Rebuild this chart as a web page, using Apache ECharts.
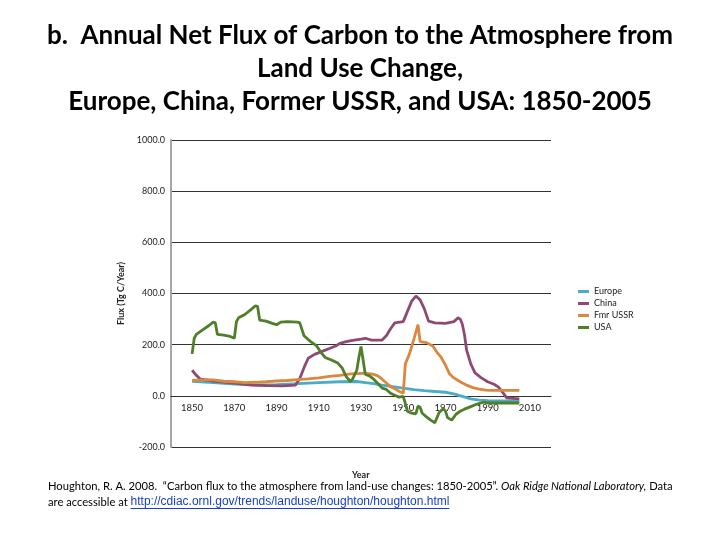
<!DOCTYPE html>
<html><head><meta charset="utf-8">
<script src="https://cdn.jsdelivr.net/npm/echarts@6/dist/echarts.min.js"></script>
<style>html,body{margin:0;padding:0;background:#fff}#c{width:720px;height:540px}</style>
</head><body><div id="c"></div>
<script>
// ---- data ----
const xTickLabels = [1850, 1870, 1890, 1910, 1930, 1950, 1970, 1990, 2010];

const europeYears = [1850,1860,1870,1880,1890,1900,1910,1920,1928,1932,1936,1940,1945,1950,1955,1960,1965,1970,1974,1978,1982,1986,1990,2005];
const europeFlux  = [57,52,46,43,44,48,52,55,56,52,48,42,36,30,24,20,17,14,8,-2,-12,-17,-19,-20];

const chinaYears = [1850,1852,1854,1860,1870,1878,1885,1893,1899,1901,1903,1905,1908,1911,1915,1918,1920,1923,1926,1930,1932,1935,1940,1942,1944,1946,1950,1952,1954,1956,1958,1960,1962,1965,1970,1974,1976,1977,1978,1979,1980,1982,1984,1987,1990,1993,1995,1997,1999,2005];
const chinaFlux  = [100,80,65,58,50,42,40,39,42,68,110,147,162,172,185,195,205,212,217,222,225,218,218,235,262,285,290,330,370,390,375,340,292,285,283,290,305,300,280,240,180,125,90,70,55,45,35,15,-8,-12];

const ussrYears = [1850,1855,1860,1865,1870,1875,1880,1885,1890,1895,1900,1905,1910,1915,1920,1925,1930,1933,1936,1938,1940,1942,1944,1946,1948,1950,1951,1953,1955,1957,1958,1961,1964,1966,1968,1970,1972,1974,1976,1978,1980,1983,1986,1989,1992,2005];
const ussrFlux  = [60,62,62,57,55,52,53,55,58,60,63,66,70,76,80,86,88,88,84,78,65,50,36,28,18,10,125,165,220,278,212,208,195,170,150,120,85,70,60,50,42,32,26,22,21,21];

const usaYears = [1850,1851,1852,1855,1858,1860,1861,1862,1865,1868,1870,1871,1872,1875,1878,1880,1881,1882,1885,1888,1890,1892,1895,1900,1901,1903,1906,1909,1911,1913,1916,1919,1921,1923,1925,1926,1928,1929,1930,1931,1932,1934,1936,1938,1940,1942,1944,1946,1948,1950,1951,1952,1954,1956,1957,1958,1959,1961,1963,1965,1967,1969,1970,1971,1973,1975,1977,1979,1982,1985,1988,1990,2005];
const usaFlux  = [164,225,240,258,275,288,285,240,237,232,225,290,305,318,338,352,350,296,292,283,278,288,290,288,285,235,213,195,170,150,140,128,110,75,56,65,100,150,193,140,85,78,65,48,30,25,10,2,-5,-2,-30,-60,-68,-70,-40,-45,-68,-82,-95,-105,-65,-50,-60,-85,-95,-72,-60,-52,-42,-32,-25,-28,-28];

const seriesNames = ['Europe', 'China', 'Fmr USSR', 'USA'];
const seriesColors = ['#4BACC6', '#8E4A72', '#D9883E', '#4F7F28'];

// ---- chart ----
const pairs = (xs, ys) => xs.map((x, i) => [x, ys[i]]);
const allData = [pairs(europeYears, europeFlux), pairs(chinaYears, chinaFlux), pairs(ussrYears, ussrFlux), pairs(usaYears, usaFlux)];

const FONT = 'Lato';
const chart = echarts.init(document.getElementById('c'), null, {renderer: 'canvas'});

const ctx = document.createElement('canvas').getContext('2d');
ctx.font = '11.2px ' + FONT;
const preW = ctx.measureText('are accessible at ').width;
const linkText = 'http://cdiac.ornl.gov/trends/landuse/houghton/houghton.html';
ctx.font = '12px "Liberation Sans"';
const linkW = ctx.measureText(linkText).width;

chart.setOption({
  animation: false,
  backgroundColor: '#fff',
  title: {
    text: 'b.  Annual Net Flux of Carbon to the Atmosphere from\nLand Use Change,\nEurope, China, Former USSR, and USA: 1850-2005',
    left: 'center', top: 14,
    textStyle: {fontFamily: FONT, fontWeight: 'bold', fontSize: 26, lineHeight: 33, color: '#000'}
  },
  grid: {left: 171, right: 169, top: 140, bottom: 93, containLabel: false},
  legend: {
    orient: 'vertical', left: 573, top: 282,
    icon: 'rect', itemWidth: 11, itemHeight: 3, itemGap: 3,
    textStyle: {fontFamily: FONT, fontSize: 9, color: '#222'},
    data: seriesNames
  },
  xAxis: {
    type: 'value', min: 1840, max: 2020,
    position: 'bottom', offset: -51.2,
    axisLine: {show: true, onZero: false, lineStyle: {color: '#333', width: 1}},
    axisTick: {show: false},
    splitLine: {show: false},
    axisLabel: {customValues: xTickLabels, fontFamily: FONT, fontSize: 9.5, color: '#222', margin: 7, formatter: v => String(v)}
  },
  yAxis: {
    type: 'value', min: -200, max: 1000, interval: 200,
    name: 'Flux (Tg C/Year)', nameLocation: 'middle', nameGap: 36,
    nameTextStyle: {fontFamily: FONT, fontSize: 9, fontWeight: 'bold', color: '#222'},
    axisLine: {show: true, lineStyle: {color: '#a6a6a6', width: 2}},
    axisTick: {show: false},
    splitLine: {show: true, lineStyle: {color: '#333', width: 1}},
    axisLabel: {fontFamily: FONT, fontSize: 9, color: '#222', margin: 6, formatter: v => v.toFixed(1)}
  },
  series: seriesNames.map((n, i) => ({
    name: n, type: 'line', data: allData[i], showSymbol: false, symbol: 'none',
    color: seriesColors[i], z: 3,
    lineStyle: {color: seriesColors[i], width: 2.8}
  })),
  graphic: [
    {type: 'text', left: 352, top: 471, style: {text: 'Year', fontFamily: FONT, fontSize: 9, fontWeight: 'bold', fill: '#222'}},
    {type: 'text', left: 48, top: 481, style: {
      text: '{n|Houghton, R. A. 2008.  \u201CCarbon flux to the atmosphere from land-use changes: 1850-2005\u201D. }{i|Oak Ridge National Laboratory,}{n| Data}',
      rich: {
        n: {fontFamily: FONT, fontSize: 11.2, fill: '#000'},
        i: {fontFamily: FONT, fontSize: 11.2, fontStyle: 'italic', fill: '#000'}
      }}},
    {type: 'text', left: 48, top: 497, style: {text: 'are accessible at ', fontFamily: FONT, fontSize: 11.2, fill: '#000'}},
    {type: 'text', left: 48 + preW, top: 496, style: {text: linkText, fontFamily: 'Liberation Sans', fontSize: 12, fill: '#1a3fc4'}},
    {type: 'rect', left: 48 + preW, top: 508, shape: {width: linkW, height: 1}, style: {fill: '#1a3fc4'}}
  ]
});
</script></body></html>
